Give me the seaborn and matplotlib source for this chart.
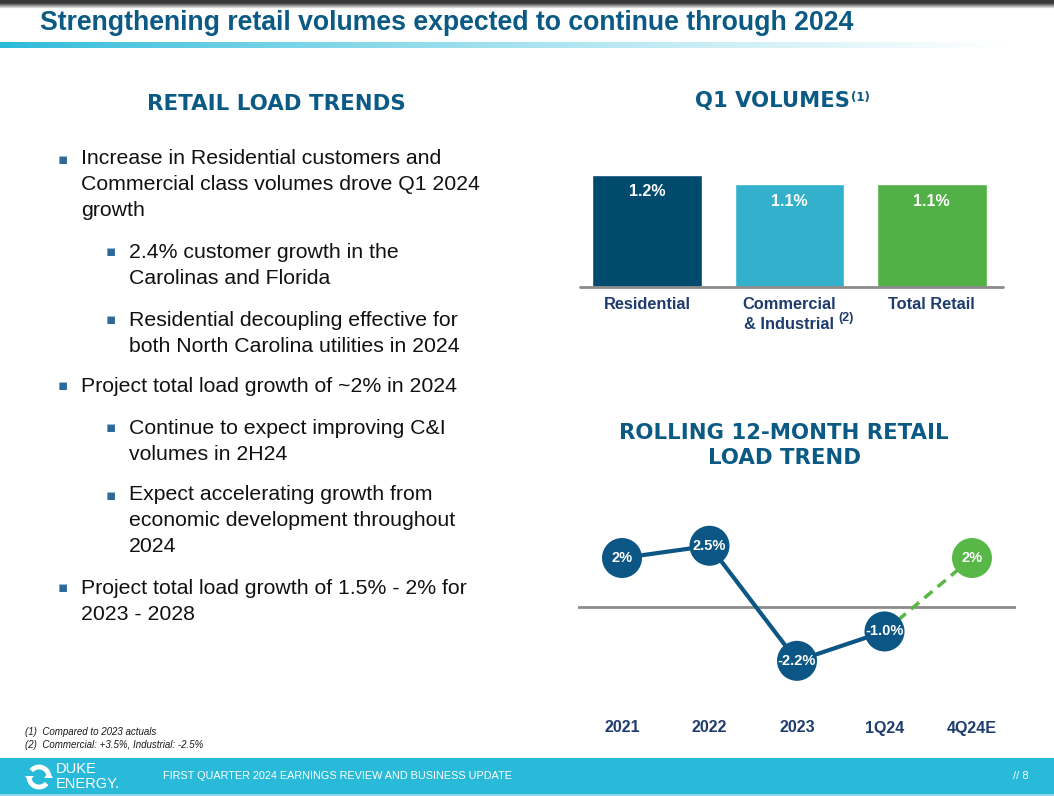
import numpy as np
import pandas as pd
import matplotlib
matplotlib.use('Agg')
import matplotlib.pyplot as plt
import seaborn as sns
from matplotlib import font_manager
from matplotlib.patches import Rectangle, Arc, Polygon

# ---------------- data ----------------
bar_categories = ['Residential', 'Commercial\n& Industrial', 'Total Retail']
bar_values = [1.2, 1.1, 1.1]
bar_labels = ['1.2%', '1.1%', '1.1%']
bar_colors = ['#004a6e', '#33b1cc', '#51b046']

trend_periods = ['2021', '2022', '2023', '1Q24', '4Q24E']
trend_values = [2.0, 2.5, -2.2, -1.0, 2.0]
trend_labels = ['2%', '2.5%', '-2.2%', '-1.0%', '2%']
trend_kind = ['Actual', 'Actual', 'Actual', 'Actual', 'Estimate']

bullets = [
    (0, ['Increase in Residential customers and',
         'Commercial class volumes drove Q1 2024',
         'growth']),
    (1, ['2.4% customer growth in the', 'Carolinas and Florida']),
    (1, ['Residential decoupling effective for',
         'both North Carolina utilities in 2024']),
    (0, ['Project total load growth of ~2% in 2024']),
    (1, ['Continue to expect improving C&I', 'volumes in 2H24']),
    (1, ['Expect accelerating growth from',
         'economic development throughout', '2024']),
    (0, ['Project total load growth of 1.5% - 2% for', '2023 - 2028']),
]
bullet_tops = [159, 252, 320, 386, 428, 495, 588]

# ---------------- style ----------------
sns.set_theme(style='white')
names = {f.name for f in font_manager.fontManager.ttflist}
NARROW = 'Liberation Sans Narrow' if 'Liberation Sans Narrow' in names else 'Liberation Sans'
plt.rcParams['font.family'] = ['Liberation Sans', 'DejaVu Sans']

HEAD = '#0b5a85'
NAVY = '#1f3c6e'
LINE = '#0b5684'
GREEN = '#58b847'

W, H = 1054, 796
fig = plt.figure(figsize=(W / 100, H / 100), dpi=100)
fig.patch.set_facecolor('white')

bg = fig.add_axes([0, 0, 1, 1])
bg.axis('off')

# top dark strip with fade
strip = np.ones((10, 2, 3))
for k in range(10):
    c = 0.22 + 0.78 * min(1, max(0, (k - 3) / 6))
    strip[k, :, :] = c
bg.imshow(strip, extent=[0, W, 9, 0], aspect='auto', interpolation='bilinear')

# gradient line under title
gx = np.linspace(0, 1, 400)
c0 = np.array([0x29, 0xb9, 0xd9]) / 255
grad = np.ones((1, 400, 3))
for i, t in enumerate(gx):
    f = min(1, t / 0.95) ** 0.8
    grad[0, i] = c0 * (1 - f) + np.ones(3) * f
bg.imshow(grad, extent=[0, W, 48, 42], aspect='auto', interpolation='bilinear')

# footer band
bg.add_patch(Rectangle((0, 758), W, 36, color='#29b9d9', lw=0))
bg.add_patch(Rectangle((0, 794), W, 2, color='#8fd5e8', lw=0))
bg.set_xlim(0, W)
bg.set_ylim(H, 0)

# title
bg.text(40, 23, 'Strengthening retail volumes expected to continue through 2024',
        fontsize=19.2, fontweight='bold', color=HEAD, family=NARROW,
        ha='left', va='center')

# left heading
bg.text(276, 104, 'RETAIL LOAD TRENDS', fontsize=15.4, fontweight='bold',
        color=HEAD, family='DejaVu Sans', ha='center', va='center')

# bullets
for (lvl, lines), y0 in zip(bullets, bullet_tops):
    bx = 58 if lvl == 0 else 106
    tx = 81 if lvl == 0 else 129
    bg.text(bx, y0, '\u25aa', fontsize=11, color='#2b6a9a', ha='left',
            va='center', family='DejaVu Sans')
    for j, ln in enumerate(lines):
        bg.text(tx, y0 + j * 26, ln, fontsize=15.3, color='#111111',
                ha='left', va='center')

# footnotes
bg.text(25, 732, '(1)  Compared to 2023 actuals', fontsize=7, style='italic',
        color='#1a1a1a', family=NARROW, ha='left', va='center')
bg.text(25, 745, '(2)  Commercial: +3.5%, Industrial: -2.5%', fontsize=7,
        style='italic', color='#1a1a1a', family=NARROW, ha='left', va='center')

# footer texts
bg.text(163, 776, 'FIRST QUARTER 2024 EARNINGS REVIEW AND BUSINESS UPDATE',
        fontsize=7.85, color='white', family=NARROW, ha='left', va='center')
bg.text(1029, 776, '// 8', fontsize=8, color='white', ha='right', va='center')
bg.text(56, 769, 'DUKE', fontsize=10.5, color='white', family=NARROW,
        ha='left', va='center')
bg.text(56, 784, 'ENERGY.', fontsize=10.5, color='white', family=NARROW,
        ha='left', va='center')
# simple swirl logo
cx, cy, r = 39, 777, 10
bg.add_patch(Arc((cx, cy), 2 * r, 2 * r, theta1=40, theta2=170, color='white', lw=3.5))
bg.add_patch(Arc((cx, cy), 2 * r, 2 * r, theta1=220, theta2=350, color='white', lw=3.5))
bg.add_patch(Polygon([[cx - 14, cy - 1], [cx - 5, cy - 1], [cx - 10, cy + 5]],
                     closed=True, color='white', lw=0))
bg.add_patch(Polygon([[cx + 14, cy + 1], [cx + 5, cy + 1], [cx + 10, cy - 5]],
                     closed=True, color='white', lw=0))

# ---------------- bar chart ----------------
def fx(x):
    return x / W


def fy(y):
    return 1 - y / H


ax1 = fig.add_axes([fx(580), fy(287), fx(1003) - fx(580), fy(150) - fy(287)])
bar_df = pd.DataFrame({'cat': bar_categories, 'val': bar_values})
sns.barplot(data=bar_df, x='cat', y='val', hue='cat', palette=bar_colors,
            width=0.77, legend=False, ax=ax1, saturation=1)
ax1.set_xlim(-0.47, 2.5)
ax1.set_ylim(0, 137 / 93.3)
for s in ax1.spines.values():
    s.set_visible(False)
ax1.axhline(0, color='#8c8c8c', lw=2, clip_on=False)
ax1.set_yticks([])
ax1.set_xlabel('')
ax1.set_ylabel('')
ax1.tick_params(axis='x', length=0, pad=7)
ax1.set_xticks(range(len(bar_categories)))
ax1.set_xticklabels(bar_categories, fontsize=11.8, fontweight='bold', color=NAVY,
                    family=NARROW, va='top', linespacing=1.45)
for i, (v, lab) in enumerate(zip(bar_values, bar_labels)):
    ax1.text(i, v - 0.18, lab, color='white', fontsize=11.5, fontweight='bold',
             family=NARROW, ha='center', va='center')
bg.text(838, 318, '(2)', fontsize=9, fontweight='bold', color=NAVY,
        family=NARROW, ha='left', va='center')

bg.text(850, 101, 'Q1 VOLUMES', fontsize=15.2, fontweight='bold', color=HEAD,
        family='DejaVu Sans', ha='right', va='center')
bg.text(851, 97, '(1)', fontsize=8.5, fontweight='bold', color=HEAD,
        family='DejaVu Sans', ha='left', va='center')

# ---------------- line chart ----------------
bg.text(784, 433, 'ROLLING 12-MONTH RETAIL', fontsize=15.3, fontweight='bold',
        color=HEAD, family='DejaVu Sans', ha='center', va='center')
bg.text(784, 458, 'LOAD TREND', fontsize=15.3, fontweight='bold',
        color=HEAD, family='DejaVu Sans', ha='center', va='center')

ax2 = fig.add_axes([fx(578), fy(700), fx(1016) - fx(578), fy(500) - fy(700)])
idx = list(range(len(trend_periods)))
sns.lineplot(x=idx[:4], y=trend_values[:4], color=LINE, lw=3, ax=ax2)
sns.lineplot(x=idx[3:], y=trend_values[3:], color=GREEN, lw=2.5,
             linestyle=(0, (3, 2)), ax=ax2)
sns.scatterplot(x=idx, y=trend_values, hue=trend_kind,
                palette={'Actual': LINE, 'Estimate': GREEN}, s=830,
                edgecolor='none', legend=False, zorder=3, ax=ax2)
ax2.axhline(0, color='#8c8c8c', lw=2, zorder=1)
ax2.set_xlim(-0.503, 4.503)
ax2.set_ylim(-3.8, 4.37)
ax2.axis('off')
for i, (v, lab) in enumerate(zip(trend_values, trend_labels)):
    ax2.text(i, v, lab, color='white', fontsize=10.5, fontweight='bold',
             family=NARROW, ha='center', va='center', zorder=4)
for i, p in enumerate(trend_periods):
    ax2.text(i, -0.14, p, color=NAVY, fontsize=11.5, fontweight='bold',
             family=NARROW, ha='center', va='center',
             transform=ax2.get_xaxis_transform())

fig.savefig('out.png', dpi=100, facecolor='white')
